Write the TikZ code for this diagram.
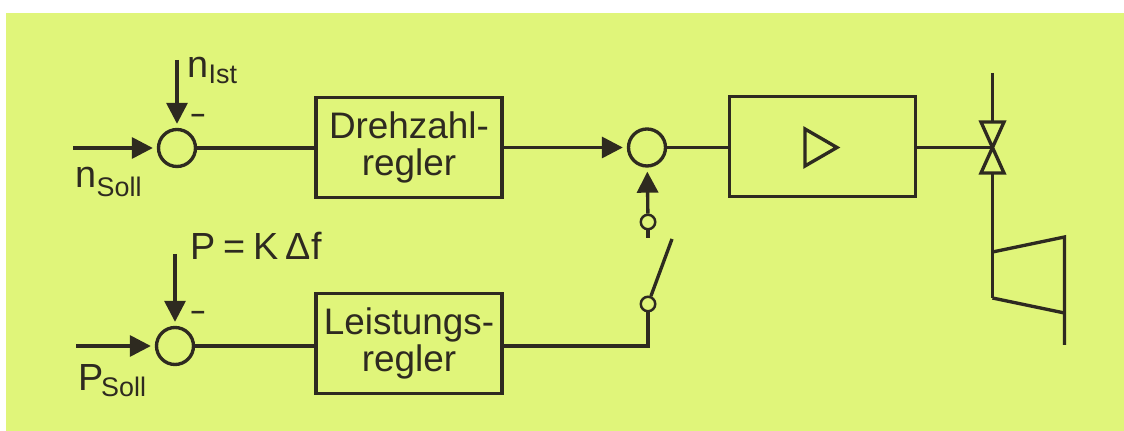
\documentclass[tikz,border=0pt]{standalone}
\usepackage{fontspec}
\setmainfont{Liberation Sans}
\usetikzlibrary{arrows.meta}
\definecolor{bgyellow}{HTML}{E0F57A}
\definecolor{inkdark}{HTML}{2E2A20}
\newcommand{\lowsub}[2][-3.2pt]{\raisebox{#1}{\fontsize{15.3}{16}\selectfont #2}}
\tikzset{
  sumcircle/.style={draw, circle, inner sep=0pt, minimum size=0.74cm},
  contact/.style={draw, circle, inner sep=0pt, minimum size=0.29cm, line width=1.4pt},
  blockbox/.style={draw, align=center, inner sep=0pt, minimum width=3.72cm, minimum height=1.99cm, font=\fontsize{21}{20.6}\selectfont},
  label/.style={inner sep=0pt, font=\fontsize{21.5}{24}\selectfont},
  minuslabel/.style={inner sep=0pt, font=\bfseries\fontsize{14.5}{16}\selectfont},
  signal/.style={-{Triangle[length=0.42cm,width=0.42cm]}, shorten >=0.08cm},
}
\begin{document}
\begin{tikzpicture}[x=0.2mm, y=-0.2mm, line width=1.9pt, inkdark]
  \useasboundingbox (0,0) rectangle (1124,431);
  \fill[bgyellow] (6,13) rectangle (1124,431);
  %nodes
  \node[sumcircle] at (177,148) (sumn) {};
  \node[sumcircle] at (175,346) (sump) {};
  \node[sumcircle] at (647,147.5) (summ) {};
  \node[blockbox] at (409,147.5) (drehzahl) {Drehzahl-\\regler};
  \node[blockbox] at (409,343.5) (leistung) {Leistungs-\\regler};
  \node[blockbox] at (822.5,146.5) (amp) {};
  \node[contact] at (648,222) (contacta) {};
  \node[contact] at (648,304) (contactb) {};
  \coordinate (nin) at (73,148);
  \coordinate (ntop) at (177,60);
  \coordinate (pin) at (76,346);
  \coordinate (ptop) at (175,254);
  \coordinate (stub) at (648,238);
  \coordinate (swtip) at (672,239);
  \coordinate (valve) at (992.5,147.5);
  \coordinate (steamtop) at (992.5,73);
  \coordinate (turbtl) at (992.5,252);
  \coordinate (turbtr) at (1064.5,237);
  \coordinate (turbbl) at (992.5,298);
  \coordinate (turbbr) at (1064.5,313);
  \coordinate (turbend) at (1064.5,345);
  %labels
  \node[label, anchor=base west] at (186,78) (nist) {n\lowsub{Ist}};
  \node[label, anchor=base west] at (74,188) (nsoll) {n\lowsub[-5pt]{Soll}};
  \node[label, anchor=base west] at (189,260) (pk) {\spaceskip=.2em P = K Δf};
  \node[label, anchor=base west] at (77,391) (psoll) {P\kern-1.5pt\lowsub{Soll}};
  \node[minuslabel] at (198,118) (minusn) {–};
  \node[minuslabel] at (198,315) (minusp) {–};
  %connectors
  \draw[signal] (nin) -- (sumn);
  \draw[signal] (ntop) -- (sumn);
  \draw[signal] (pin) -- (sump);
  \draw[signal] (ptop) -- (sump);
  \draw[signal] (drehzahl.east |- summ) -- (summ);
  \draw[signal] (contacta) -- (summ);
  \draw (sumn) -- (sumn -| drehzahl.west);
  \draw (sump) -- (sump -| leistung.west);
  \draw (summ) -- (summ -| amp.west);
  \draw (contacta) -- (stub);
  \draw (leistung.east |- sump) -| (contactb);
  \draw (contactb) -- (swtip);
  \draw (amp.east |- valve) -- (valve);
  %triangle in amp
  \draw (805,129) -- (837,147.5) -- (805,166) -- cycle;
  %valve
  \draw (steamtop) -- (992.5,122);
  \draw (992.5,173) -- (turbbl);
  \draw (981,122) -- (1004,122) -- (981,173) -- (1004,173) -- cycle;
  %turbine
  \draw (turbtl) -- (turbtr) -- (turbend);
  \draw (turbbl) -- (turbbr);
\end{tikzpicture}
\end{document}
